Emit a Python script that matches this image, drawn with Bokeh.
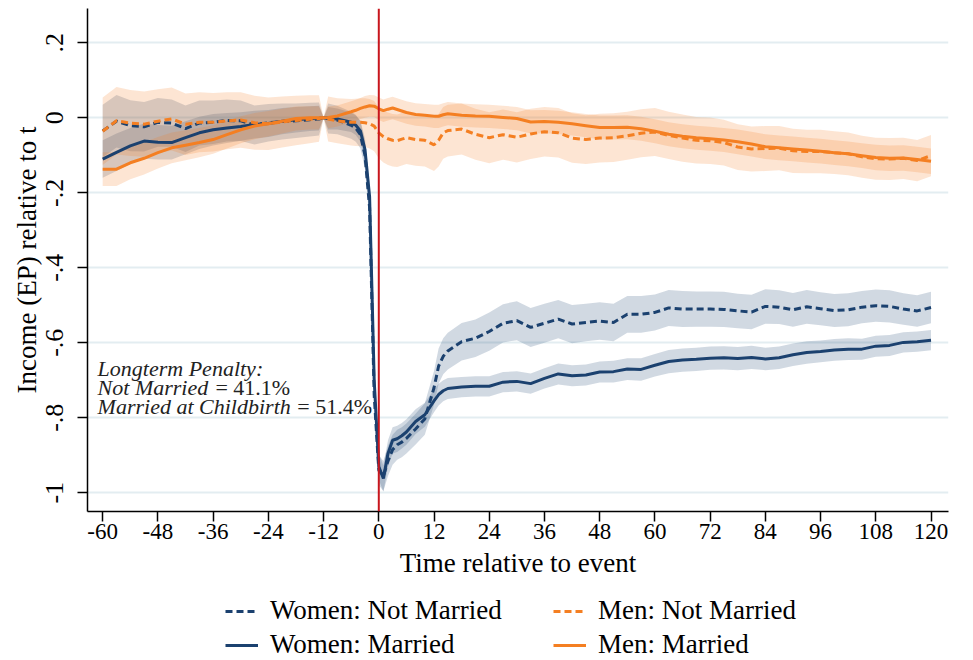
from bokeh.plotting import figure
from bokeh.layouts import column
from bokeh.models import Range1d, FixedTicker, Legend, LegendItem, Span
from bokeh.embed import file_html
from bokeh.resources import INLINE
from bokeh.core.properties import value

# Months relative to the birth of the first child
months = [-60, -57, -54, -51, -48, -45, -42, -39, -36, -33, -30, -27, -24, -21, -18, -15,
          -13, -12, -11, -9, -6,
          -5, -4, -3, -2, -1, 0, 1, 2, 3, 4, 5,
          6, 8, 10, 12, 13, 14, 15,
          18, 21, 24, 27, 30, 33, 36, 39, 42, 45, 48, 51, 54, 57, 60, 63, 66, 69, 72, 75,
          78, 81, 84, 87, 90, 93, 96, 99, 102, 105, 108, 111, 114, 117, 120]

# Income relative to t (event-study coefficients)
women_not_married = [-0.035, -0.009, -0.021, -0.024, -0.012, -0.014, -0.029, -0.014, -0.012, -0.007, -0.008, -0.019, -0.013, -0.010, -0.008, -0.005,
                     -0.003, 0.000, -0.002, -0.006, -0.020,
                     -0.028, -0.045, -0.100, -0.240, -0.740, -0.940, -0.955, -0.915, -0.885, -0.872, -0.865,
                     -0.855, -0.830, -0.803, -0.720, -0.662, -0.636, -0.622,
                     -0.597, -0.588, -0.570, -0.548, -0.541, -0.559, -0.548, -0.537, -0.550, -0.546, -0.542, -0.546, -0.524, -0.524, -0.519, -0.507, -0.510, -0.510, -0.510, -0.511,
                     -0.515, -0.518, -0.503, -0.505, -0.512, -0.504, -0.509, -0.514, -0.512, -0.505, -0.501, -0.503, -0.510, -0.515, -0.506]
women_married = [-0.110, -0.092, -0.075, -0.062, -0.065, -0.066, -0.053, -0.040, -0.032, -0.027, -0.023, -0.018, -0.015, -0.009, -0.005, -0.002,
                 -0.001, 0.000, -0.001, -0.003, -0.012,
                 -0.020, -0.035, -0.085, -0.210, -0.700, -0.930, -0.962, -0.895, -0.860, -0.856, -0.848,
                 -0.838, -0.810, -0.792, -0.755, -0.738, -0.728, -0.722,
                 -0.718, -0.716, -0.716, -0.705, -0.703, -0.709, -0.695, -0.683, -0.688, -0.686, -0.678, -0.677, -0.670, -0.671, -0.660, -0.650, -0.646, -0.644, -0.641, -0.640,
                 -0.642, -0.639, -0.643, -0.640, -0.632, -0.626, -0.623, -0.619, -0.617, -0.617, -0.609, -0.607, -0.599, -0.597, -0.593]
men_not_married = [-0.036, -0.008, -0.014, -0.017, -0.009, -0.003, -0.017, -0.012, -0.012, -0.008, -0.006, -0.013, -0.016, -0.011, -0.007, -0.004,
                   -0.002, 0.000, -0.003, -0.008, -0.012,
                   -0.012, -0.012, -0.013, -0.016, -0.022, -0.040, -0.050, -0.056, -0.060, -0.061, -0.057,
                   -0.053, -0.058, -0.060, -0.072, -0.060, -0.040, -0.034,
                   -0.030, -0.044, -0.053, -0.045, -0.052, -0.043, -0.037, -0.040, -0.054, -0.058, -0.054, -0.053, -0.048, -0.041, -0.038, -0.047, -0.054, -0.060, -0.061, -0.066,
                   -0.078, -0.083, -0.082, -0.081, -0.088, -0.090, -0.090, -0.093, -0.096, -0.104, -0.109, -0.110, -0.108, -0.114, -0.101]
men_married = [-0.137, -0.137, -0.120, -0.108, -0.093, -0.080, -0.073, -0.066, -0.058, -0.045, -0.032, -0.022, -0.016, -0.009, -0.002, 0.000,
               0.000, 0.000, 0.001, 0.005, 0.016,
               0.020, 0.025, 0.029, 0.032, 0.031, 0.024, 0.019, 0.023, 0.026, 0.022, 0.018,
               0.014, 0.009, 0.007, 0.004, 0.004, 0.008, 0.011,
               0.007, 0.005, 0.004, 0.001, -0.002, -0.011, -0.010, -0.012, -0.016, -0.021, -0.026, -0.026, -0.025, -0.029, -0.036, -0.044, -0.049, -0.053, -0.056, -0.059,
               -0.064, -0.070, -0.077, -0.080, -0.083, -0.086, -0.089, -0.093, -0.096, -0.101, -0.106, -0.108, -0.107, -0.111, -0.116]

# Half-widths of the confidence bands (zero at the reference month)
women_not_married_ci = [0.070, 0.070, 0.068, 0.066, 0.065, 0.063, 0.062, 0.060, 0.058, 0.056, 0.054, 0.052, 0.050, 0.048, 0.046, 0.045,
                        0.044, 0.000, 0.040, 0.038, 0.036,
                        0.036, 0.036, 0.037, 0.038, 0.040, 0.040, 0.040, 0.040, 0.040, 0.040, 0.040,
                        0.040, 0.041, 0.042, 0.045, 0.047, 0.048, 0.049,
                        0.050, 0.050, 0.051, 0.051, 0.052, 0.052, 0.052, 0.051, 0.051, 0.050, 0.050, 0.050, 0.049, 0.049, 0.048, 0.048, 0.048, 0.047, 0.047, 0.047,
                        0.046, 0.046, 0.046, 0.045, 0.045, 0.045, 0.044, 0.044, 0.044, 0.043, 0.043, 0.043, 0.042, 0.042, 0.042]
women_married_ci = [0.050, 0.050, 0.048, 0.047, 0.046, 0.045, 0.044, 0.043, 0.042, 0.040, 0.038, 0.037, 0.036, 0.035, 0.034, 0.033,
                    0.033, 0.000, 0.030, 0.028, 0.026,
                    0.026, 0.028, 0.030, 0.032, 0.034, 0.035, 0.035, 0.035, 0.035, 0.035, 0.034,
                    0.034, 0.033, 0.032, 0.030, 0.029, 0.028, 0.028,
                    0.027, 0.027, 0.027, 0.027, 0.027, 0.027, 0.027, 0.028, 0.028, 0.028, 0.028, 0.029, 0.029, 0.030, 0.030, 0.031, 0.031, 0.031, 0.031, 0.031,
                    0.031, 0.031, 0.030, 0.030, 0.030, 0.030, 0.029, 0.029, 0.029, 0.028, 0.028, 0.028, 0.027, 0.027, 0.027]
men_not_married_ci = [0.090, 0.090, 0.088, 0.087, 0.085, 0.084, 0.082, 0.080, 0.078, 0.076, 0.074, 0.072, 0.070, 0.068, 0.066, 0.064,
                      0.062, 0.000, 0.060, 0.060, 0.062,
                      0.063, 0.064, 0.065, 0.066, 0.067, 0.068, 0.069, 0.070, 0.070, 0.070, 0.070,
                      0.070, 0.070, 0.070, 0.070, 0.070, 0.069, 0.069,
                      0.068, 0.068, 0.068, 0.067, 0.067, 0.067, 0.066, 0.066, 0.066, 0.065, 0.065, 0.065, 0.064, 0.064, 0.064, 0.063, 0.063, 0.062, 0.062, 0.061,
                      0.061, 0.060, 0.060, 0.059, 0.059, 0.058, 0.058, 0.057, 0.057, 0.056, 0.056, 0.056, 0.055, 0.055, 0.055]
men_married_ci = [0.045, 0.045, 0.044, 0.043, 0.042, 0.041, 0.040, 0.039, 0.038, 0.037, 0.036, 0.035, 0.034, 0.033, 0.032, 0.031,
                  0.031, 0.000, 0.029, 0.028, 0.028,
                  0.028, 0.028, 0.029, 0.029, 0.029, 0.030, 0.030, 0.030, 0.030, 0.030, 0.030,
                  0.030, 0.030, 0.030, 0.031, 0.031, 0.031, 0.031,
                  0.031, 0.031, 0.031, 0.031, 0.031, 0.031, 0.031, 0.031, 0.031, 0.031, 0.032, 0.032, 0.032, 0.032, 0.032, 0.032, 0.032, 0.032, 0.032, 0.032,
                  0.033, 0.033, 0.033, 0.033, 0.033, 0.033, 0.033, 0.033, 0.033, 0.033, 0.034, 0.034, 0.034, 0.034, 0.034]

x_ticks = [-60, -48, -36, -24, -12, 0, 12, 24, 36, 48, 60, 72, 84, 96, 108, 120]
x_tick_labels = ["-60", "-48", "-36", "-24", "-12", "0", "12", "24", "36", "48",
                 "60", "72", "84", "96", "108", "120"]
y_ticks = [-1.0, -0.8, -0.6, -0.4, -0.2, 0.0, 0.2]
y_tick_labels = ["-1", "-.8", "-.6", "-.4", "-.2", "0", ".2"]

series_labels = ["Women: Not Married", "Women: Married", "Men: Not Married", "Men: Married"]

NAVY = "#1b416f"
ORANGE = "#f47f22"
SERIF = "Liberation Serif"
DASH = "7 4"

p = figure(frame_width=861, frame_height=503, output_backend="svg", toolbar_location=None,
           x_range=Range1d(-63.3, 123.8), y_range=Range1d(-1.05, 0.2915),
           min_border_left=87, min_border_right=25, min_border_top=8, min_border_bottom=80,
           background_fill_color="white", border_fill_color="white")
p.outline_line_color = None

# Confidence bands
for vals, ci, col in [(women_not_married, women_not_married_ci, NAVY),
                      (women_married, women_married_ci, NAVY),
                      (men_not_married, men_not_married_ci, ORANGE),
                      (men_married, men_married_ci, ORANGE)]:
    lo = [v - c for v, c in zip(vals, ci)]
    hi = [v + c for v, c in zip(vals, ci)]
    p.varea(x=months, y1=lo, y2=hi, fill_color=col, fill_alpha=0.2)

p.line(months, women_not_married, line_color=NAVY, line_width=3, line_dash=DASH)
p.line(months, women_married, line_color=NAVY, line_width=3)
p.line(months, men_not_married, line_color=ORANGE, line_width=3, line_dash=DASH)
p.line(months, men_married, line_color=ORANGE, line_width=3)

# Event marker
p.add_layout(Span(location=0, dimension="height", line_color="#c8161d", line_width=2))

# Annotation
ann_font = value(SERIF)
p.text(x=[-61.1], y=[-0.6685], text=["Longterm Penalty:"], text_font=ann_font,
       text_font_style="italic", text_font_size="22px", text_baseline="middle", text_color="#222222")
p.text(x=[-61.1], y=[-0.719], text=["Not Married"], text_font=ann_font,
       text_font_style="italic", text_font_size="22px", text_baseline="middle", text_color="#222222")
p.text(x=[-35.5], y=[-0.719], text=["= 41.1%"], text_font=ann_font,
       text_font_size="22px", text_baseline="middle", text_color="#222222")
p.text(x=[-61.1], y=[-0.770], text=["Married at Childbirth"], text_font=ann_font,
       text_font_style="italic", text_font_size="22px", text_baseline="middle", text_color="#222222")
p.text(x=[-17.7], y=[-0.770], text=["= 51.4%"], text_font=ann_font,
       text_font_size="22px", text_baseline="middle", text_color="#222222")

# Grid
p.xgrid.visible = False
p.ygrid.ticker = FixedTicker(ticks=y_ticks)
p.ygrid.grid_line_color = "#e3edf1"
p.ygrid.grid_line_width = 2

# Axes
p.xaxis.ticker = FixedTicker(ticks=x_ticks)
p.xaxis.major_label_overrides = {t: s for t, s in zip(x_ticks, x_tick_labels)}
p.yaxis.ticker = FixedTicker(ticks=y_ticks)
p.yaxis.major_label_overrides = {t: s for t, s in zip(y_ticks, y_tick_labels)}
p.yaxis.major_label_orientation = "vertical"
for ax in (p.xaxis, p.yaxis):
    ax.axis_line_color = "black"
    ax.axis_line_width = 1.5
    ax.major_tick_line_color = "black"
    ax.major_tick_line_width = 1.5
    ax.major_tick_out = 10
    ax.major_tick_in = 0
    ax.minor_tick_line_color = None
    ax.major_label_text_font = SERIF
    ax.major_label_text_color = "black"
    ax.axis_label_text_font = SERIF
    ax.axis_label_text_font_style = "normal"
    ax.axis_label_text_color = "black"
    ax.axis_label_text_font_size = "27px"
p.xaxis.major_label_text_font_size = "23px"
p.yaxis.major_label_text_font_size = "26px"
p.xaxis.major_label_standoff = 2
p.yaxis.major_label_standoff = 14
p.xaxis.axis_label = "Time relative to event"
p.yaxis.axis_label = "Income (EP) relative to t"
p.xaxis.axis_label_standoff = 6
p.yaxis.axis_label_standoff = 2

# Legend strip under the chart: line styles only, nothing plotted in it
key = figure(width=973, height=69, output_backend="svg", toolbar_location=None,
             x_axis_location=None, y_axis_location=None, x_range=Range1d(0, 1), y_range=Range1d(0, 1),
             min_border_left=0, min_border_right=0, min_border_top=0, min_border_bottom=0,
             background_fill_color="white", border_fill_color="white")
key.outline_line_color = None
key.grid.visible = False
styles = [(NAVY, DASH), (NAVY, "solid"), (ORANGE, DASH), (ORANGE, "solid")]
key_items = []
for label, (col, dash) in zip(series_labels, styles):
    r = key.line(x=[float("nan")], y=[float("nan")], line_color=col, line_width=3, line_dash=dash)
    key_items.append(LegendItem(label=label, renderers=[r]))

legend = Legend(items=key_items, ncols=2, orientation="vertical", location=(138, 0),
                label_text_font=SERIF, label_text_font_size="27px", label_text_color="black",
                glyph_width=33, glyph_height=20, label_standoff=12, label_width=280,
                label_height=31, spacing=3, padding=0, margin=0, border_line_color=None,
                background_fill_alpha=0)
key.add_layout(legend)

layout = column(p, key, spacing=0)
open("out.html", "w").write(file_html(layout, INLINE))
